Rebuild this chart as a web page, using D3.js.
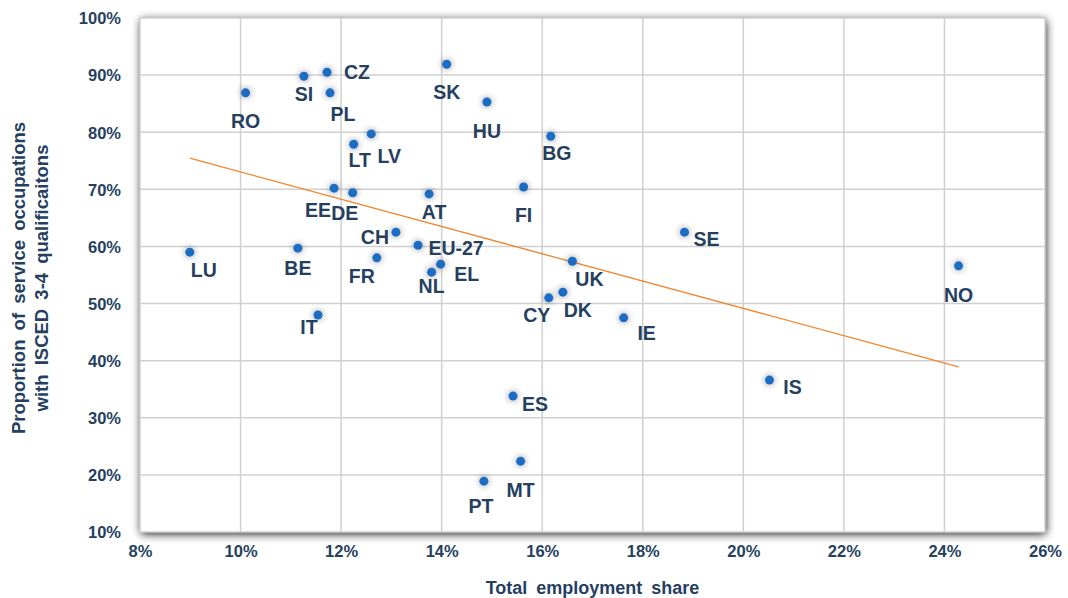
<!DOCTYPE html>
<html>
<head>
<meta charset="utf-8">
<script src="https://cdn.jsdelivr.net/npm/d3@7"></script>
<style>
  body { margin: 0; background: #fff; }
  svg { display: block; font-family: "Liberation Sans", Arial, sans-serif; }
</style>
</head>
<body>
<div id="chart"></div>
<script>
// country codes and values (x = total employment share %, y = proportion with ISCED 3-4 %)
var codes = ["RO", "SI", "CZ", "PL", "SK", "HU", "BG", "LV", "LT", "EE", "DE", "AT", "FI", "CH", "EU-27",
  "LU", "BE", "FR", "EL", "NL", "SE", "UK", "NO", "CY", "DK", "IE", "IT", "IS", "ES", "MT", "PT"];
var empShare = [10.1, 11.26, 11.72, 11.78, 14.1, 14.9, 16.17, 12.6, 12.25, 11.86, 12.23, 13.75, 15.63, 13.09, 13.53,
  8.99, 11.14, 12.71, 13.98, 13.8, 18.83, 16.6, 24.28, 16.13, 16.41, 17.62, 11.54, 20.52, 15.42, 15.57, 14.84];
var iscedShare = [86.9, 89.8, 90.5, 86.9, 91.9, 85.3, 79.3, 79.7, 77.9, 70.2, 69.4, 69.2, 70.4, 62.5, 60.2,
  59.0, 59.7, 58.0, 56.9, 55.5, 62.5, 57.4, 56.6, 51.0, 52.0, 47.5, 48.0, 36.6, 33.8, 22.4, 18.9];
var xTicks = [8, 10, 12, 14, 16, 18, 20, 22, 24, 26];
var yTicks = [10, 20, 30, 40, 50, 60, 70, 80, 90, 100];

// label placement (pixel offsets from the marker)
var labelOffset = {
  "RO": [0, 28], "SI": [0, 18], "CZ": [30, 0], "PL": [13, 21], "SK": [0, 28], "HU": [0, 29],
  "BG": [6, 17], "LV": [18, 22], "LT": [6, 16], "EE": [-16, 22], "DE": [-8, 20], "AT": [5, 18],
  "FI": [0, 28], "CH": [-21, 5], "EU-27": [38, 3], "LU": [14, 18], "BE": [0, 20], "FR": [-15, 18],
  "EL": [26, 10], "NL": [0, 14], "SE": [22, 7], "UK": [17, 18], "NO": [0, 29], "CY": [-12, 17],
  "DK": [15, 18], "IE": [23, 15], "IT": [-9, 12], "IS": [23, 7], "ES": [22, 8], "MT": [0, 29], "PT": [-3, 25]
};

var width = 1068, height = 598;
var margin = {top: 18, right: 23, bottom: 66, left: 140};
var textColor = "#263f5f";

var svg = d3.select("#chart").append("svg").attr("width", width).attr("height", height);
var defs = svg.append("defs");

var shadow = defs.append("filter").attr("id", "plotShadow")
  .attr("x", "-5%").attr("y", "-5%").attr("width", "110%").attr("height", "110%");
shadow.append("feGaussianBlur").attr("in", "SourceAlpha").attr("stdDeviation", 5).attr("result", "blur");
shadow.append("feOffset").attr("in", "blur").attr("dx", 1).attr("dy", 2).attr("result", "off");
shadow.append("feComponentTransfer").attr("in", "off").attr("result", "soft")
  .append("feFuncA").attr("type", "linear").attr("slope", 0.9);
var m1 = shadow.append("feMerge");
m1.append("feMergeNode").attr("in", "soft");
m1.append("feMergeNode").attr("in", "SourceGraphic");

var glow = defs.append("filter").attr("id", "dotGlow")
  .attr("x", "-200%").attr("y", "-200%").attr("width", "500%").attr("height", "500%");
glow.append("feGaussianBlur").attr("in", "SourceAlpha").attr("stdDeviation", 3.5).attr("result", "blur");
glow.append("feComponentTransfer").attr("in", "blur").attr("result", "soft")
  .append("feFuncA").attr("type", "linear").attr("slope", 0.45);
var m2 = glow.append("feMerge");
m2.append("feMergeNode").attr("in", "soft");
m2.append("feMergeNode").attr("in", "SourceGraphic");

var x = d3.scaleLinear().domain([8, 26]).range([margin.left, width - margin.right]);
var y = d3.scaleLinear().domain([10, 100]).range([height - margin.bottom, margin.top]);

svg.append("rect")
  .attr("x", x(8)).attr("y", y(100))
  .attr("width", x(26) - x(8)).attr("height", y(10) - y(100))
  .attr("fill", "#fff").attr("filter", "url(#plotShadow)");

var grid = svg.append("g").attr("stroke", "#d0d0d0").attr("stroke-width", 1.5);
grid.selectAll("line.v").data(xTicks).enter().append("line").attr("class", "v")
  .attr("x1", function (d) { return x(d); }).attr("x2", function (d) { return x(d); })
  .attr("y1", y(100)).attr("y2", y(10));
grid.selectAll("line.h").data(yTicks).enter().append("line").attr("class", "h")
  .attr("y1", function (d) { return y(d); }).attr("y2", function (d) { return y(d); })
  .attr("x1", x(8)).attr("x2", x(26));

var xAxis = svg.append("g").attr("transform", "translate(0," + (y(10) + 8) + ")")
  .call(d3.axisBottom(x).tickValues(xTicks).tickSize(0).tickFormat(function (d) { return d + "%"; }));
var yAxis = svg.append("g").attr("transform", "translate(" + (x(8) - 16) + ",0)")
  .call(d3.axisLeft(y).tickValues(yTicks).tickSize(0).tickFormat(function (d) { return d + "%"; }));
[xAxis, yAxis].forEach(function (a) {
  a.select(".domain").remove();
  a.selectAll("text").attr("fill", textColor).attr("font-size", 16.5).attr("font-weight", "bold")
    .attr("font-family", "Liberation Sans, Arial, sans-serif");
});
xAxis.selectAll("text").attr("dy", "0.85em");
yAxis.selectAll("text").attr("dy", "0.35em");

svg.append("text").attr("x", (x(8) + x(26)) / 2).attr("y", 594)
  .attr("text-anchor", "middle").attr("fill", textColor)
  .attr("font-size", 18).attr("font-weight", "bold").attr("word-spacing", 4)
  .text("Total employment share");

var yTitle = svg.append("text").attr("transform", "translate(25," + 278 + ") rotate(-90)")
  .attr("text-anchor", "middle").attr("fill", textColor)
  .attr("font-size", 18.5).attr("font-weight", "bold").attr("word-spacing", 4);
yTitle.append("tspan").attr("x", 0).attr("dy", 0).text("Proportion of service occupations");
yTitle.append("tspan").attr("x", 0).attr("dy", 23).text("with ISCED 3-4 qualificaitons");

// linear trend line (least squares)
var mx = d3.mean(empShare), my = d3.mean(iscedShare);
var sxy = d3.sum(empShare, function (v, i) { return (v - mx) * (iscedShare[i] - my); });
var sxx = d3.sum(empShare, function (v) { return (v - mx) * (v - mx); });
var slope = sxy / sxx, icpt = my - slope * mx;
var xExt = d3.extent(empShare);
svg.append("line")
  .attr("x1", x(xExt[0])).attr("y1", y(icpt + slope * xExt[0]))
  .attr("x2", x(xExt[1])).attr("y2", y(icpt + slope * xExt[1]))
  .attr("stroke", "#f0862f").attr("stroke-width", 1.3);

var pts = codes.map(function (c, i) { return {code: c, x: empShare[i], y: iscedShare[i]}; });

svg.append("g").selectAll("circle").data(pts).enter().append("circle")
  .attr("cx", function (d) { return x(d.x); })
  .attr("cy", function (d) { return y(d.y); })
  .attr("r", 4.5).attr("fill", "#1f6cc4").attr("filter", "url(#dotGlow)");

svg.append("g").selectAll("text").data(pts).enter().append("text")
  .attr("x", function (d) { return x(d.x) + labelOffset[d.code][0]; })
  .attr("y", function (d) { return y(d.y) + labelOffset[d.code][1]; })
  .attr("dy", "0.35em").attr("text-anchor", "middle")
  .attr("fill", textColor).attr("font-size", 19.5).attr("font-weight", "bold")
  .text(function (d) { return d.code; });
</script>
</body>
</html>
